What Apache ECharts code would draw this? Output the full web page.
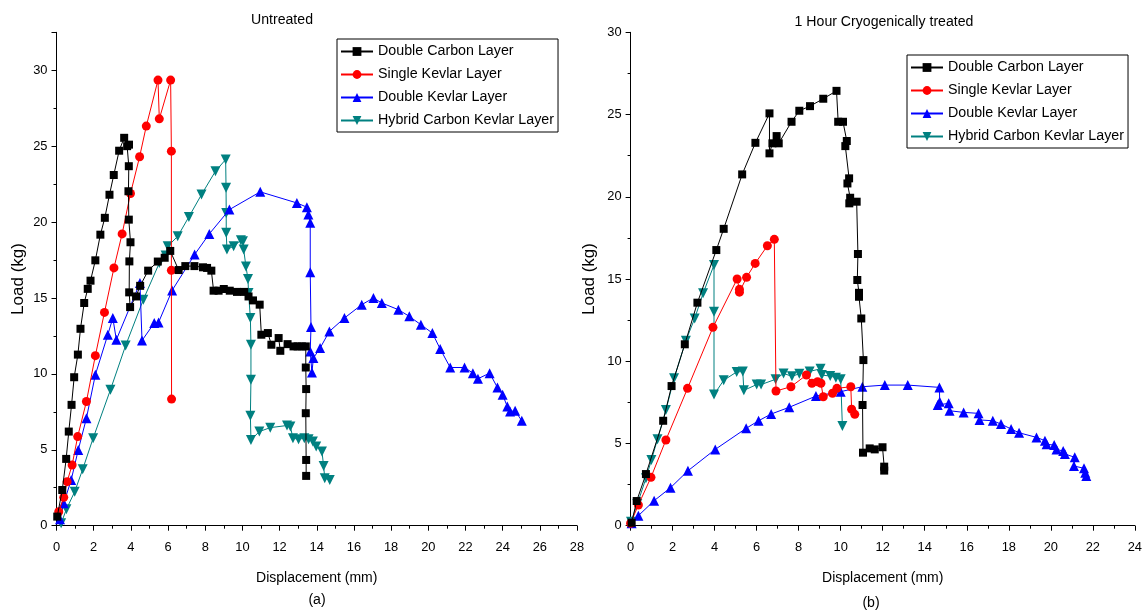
<!DOCTYPE html>
<html>
<head>
<meta charset="utf-8">
<script src="https://cdn.jsdelivr.net/npm/echarts@6/dist/echarts.min.js"></script>
<style>
html,body{margin:0;padding:0;background:#fff;}
#chart{width:1145px;height:612px;}
</style>
</head>
<body>
<div id="chart"></div>
<script>
// ---------- DATA ----------
const seriesNames = ['Double Carbon Layer', 'Single Kevlar Layer', 'Double Kevlar Layer', 'Hybrid Carbon Kevlar Layer'];
const panelTitles = ['Untreated', '1 Hour Cryogenically treated'];
const panelTags = ['(a)', '(b)'];
const xAxisName = 'Displacement (mm)';
const yAxisName = 'Load (kg)';

// (a) Untreated  [displacement mm, load kg]
const untreatedDoubleCarbon = [[0.04,0.6],[0.31,2.35],[0.52,4.4],[0.66,6.2],[0.81,7.96],[0.95,9.78],[1.15,11.27],[1.29,12.97],[1.49,14.67],[1.68,15.6],[1.83,16.14],[2.09,17.48],[2.36,19.17],[2.6,20.28],[2.85,21.8],[3.08,23.1],[3.37,24.7],[3.64,25.55],[3.8,25.0],[3.9,25.1],[3.89,23.68],[3.87,22.03],[3.89,20.16],[3.98,18.67],[3.92,17.41],[3.91,15.37],[3.96,14.4],[4.28,15.1],[4.5,15.8],[4.93,16.8],[5.45,17.4],[5.82,17.65],[6.12,18.1],[6.57,16.84],[6.93,17.1],[7.42,17.1],[7.88,17.02],[8.1,16.98],[8.33,16.8],[8.45,15.48],[8.72,15.48],[9.0,15.59],[9.32,15.48],[9.71,15.4],[10.1,15.4],[10.33,15.1],[10.57,14.84],[10.93,14.56],[11.02,12.58],[11.37,12.69],[11.56,11.92],[11.95,12.36],[12.04,11.52],[12.43,11.96],[12.75,11.81],[12.97,11.81],[13.2,11.81],[13.41,11.81],[13.41,10.42],[13.43,9.0],[13.41,7.41],[13.43,4.33],[13.43,3.28]];
const untreatedSingleKevlar = [[0.12,0.92],[0.39,1.87],[0.57,2.9],[0.84,4.0],[1.14,5.87],[1.61,8.18],[2.09,11.2],[2.58,14.05],[3.09,16.98],[3.53,19.22],[3.98,21.88],[4.47,24.3],[4.83,26.32],[5.46,29.35],[5.53,26.8],[6.14,29.35],[6.18,24.67],[6.18,16.82],[6.19,8.34]];
const untreatedDoubleKevlar = [[0.19,0.42],[0.39,1.48],[0.79,3.01],[1.17,4.99],[1.61,7.08],[2.09,9.94],[2.76,12.58],[3.03,13.68],[3.22,12.25],[4.49,15.99],[4.6,12.2],[5.26,13.35],[5.49,13.39],[6.22,15.5],[7.43,17.86],[8.22,19.22],[9.3,20.82],[10.96,21.99],[12.93,21.26],[13.47,20.98],[13.55,20.5],[13.65,19.95],[13.65,16.69],[13.69,13.09],[13.65,11.48],[13.74,10.09],[13.82,11.04],[14.18,11.7],[14.68,12.8],[15.49,13.68],[16.42,14.56],[17.05,15.0],[17.5,14.67],[18.39,14.23],[18.98,13.79],[19.6,13.24],[20.22,12.69],[20.64,11.64],[21.18,10.42],[21.95,10.42],[22.4,10.05],[22.67,9.68],[23.3,10.05],[23.72,9.1],[24.0,8.62],[24.25,7.85],[24.4,7.52],[24.67,7.57],[25.03,6.91]];
const untreatedHybrid = [[0.25,0.16],[0.53,1.08],[0.98,2.24],[1.41,3.72],[1.97,5.76],[2.9,8.95],[3.72,11.87],[4.67,14.89],[5.53,17.3],[5.87,17.79],[5.98,18.4],[6.52,19.06],[7.12,20.34],[7.8,21.81],[8.55,23.35],[9.1,24.12],[9.12,22.26],[9.13,20.6],[9.13,19.29],[9.17,18.19],[9.53,18.41],[9.92,18.8],[10.03,18.73],[10.07,18.19],[10.19,17.08],[10.3,16.25],[10.33,15.33],[10.43,13.68],[10.46,11.92],[10.46,9.61],[10.43,7.24],[10.46,5.65],[10.91,6.2],[11.5,6.46],[12.4,6.6],[12.58,6.53],[12.72,5.76],[13.02,5.7],[13.33,5.76],[13.56,5.7],[13.79,5.54],[13.97,5.21],[14.28,4.88],[14.37,3.94],[14.43,3.13],[14.7,3.01]];

// (b) 1 hour cryogenically treated
const cryoDoubleCarbon = [[0.05,0.18],[0.29,1.5],[0.73,3.14],[1.55,6.38],[1.95,8.49],[2.58,11.03],[3.18,13.56],[4.08,16.76],[4.43,18.05],[5.31,21.36],[5.94,23.28],[6.61,25.07],[6.61,22.64],[6.75,23.25],[6.95,23.69],[7.05,23.25],[7.66,24.56],[8.03,25.23],[8.54,25.51],[9.17,25.96],[9.8,26.44],[9.88,24.56],[10.11,24.56],[10.29,23.39],[10.22,23.08],[10.4,21.12],[10.32,20.81],[10.45,19.94],[10.41,19.6],[10.76,19.7],[10.82,16.52],[10.79,14.94],[10.87,14.16],[10.87,13.92],[10.98,12.6],[11.08,10.07],[11.04,7.34],[11.06,4.44],[11.38,4.7],[11.62,4.64],[11.99,4.77],[12.07,3.59],[12.07,3.35]];
const cryoSingleKevlar = [[0.0,0.15],[0.37,1.26],[0.97,2.94],[1.68,5.21],[2.71,8.35],[3.92,12.06],[5.07,15.0],[5.18,14.37],[5.18,14.2],[5.52,15.1],[5.93,15.95],[6.51,17.02],[6.84,17.41],[6.92,8.19],[7.63,8.45],[8.37,9.16],[8.63,8.66],[8.9,8.75],[9.06,8.66],[9.17,7.84],[9.61,8.05],[9.82,8.35],[10.48,8.45],[10.52,7.08],[10.67,6.77]];
const cryoDoubleKevlar = [[0.05,0.15],[0.37,0.61],[1.12,1.52],[1.9,2.31],[2.73,3.34],[4.03,4.64],[5.5,5.92],[6.09,6.38],[6.69,6.79],[7.55,7.2],[8.82,7.88],[10.0,8.15],[11.03,8.45],[12.1,8.55],[13.19,8.55],[14.7,8.41],[14.71,7.54],[14.62,7.34],[15.14,7.44],[15.18,6.99],[15.85,6.89],[16.56,6.83],[16.61,6.43],[17.24,6.38],[17.63,6.18],[18.11,5.88],[18.49,5.65],[19.32,5.37],[19.72,5.17],[19.8,4.95],[20.16,4.9],[20.27,4.64],[20.59,4.54],[20.67,4.36],[21.14,4.16],[21.1,3.63],[21.58,3.49],[21.64,3.22],[21.69,3.02]];
const cryoHybrid = [[0.02,0.24],[0.32,1.32],[0.73,2.88],[0.99,3.99],[1.28,5.25],[1.68,7.03],[2.07,8.96],[2.63,11.25],[3.05,12.6],[3.45,14.13],[3.97,15.85],[3.97,13.01],[3.97,7.97],[4.43,8.84],[5.05,9.35],[5.34,9.37],[5.39,8.23],[6.0,8.58],[6.21,8.58],[6.9,8.9],[7.28,9.26],[7.68,9.08],[8.03,9.24],[8.52,9.38],[9.04,9.54],[9.1,9.16],[9.5,9.1],[9.77,9.0],[10.0,8.9],[10.08,6.06]];

// axis ranges / ticks
const xMaxA = 28, xMaxB = 24, xStep = 2;
const yMaxA = 32.5, yMaxB = 30, yStep = 5;

// ---------- STYLE ----------
function hasFont(name){
  const c = document.createElement('canvas').getContext('2d');
  const s = 'Hybrid Carbon Kevlar 0123456789';
  c.font = '40px monospace'; const w1 = c.measureText(s).width;
  c.font = "40px '" + name + "', monospace"; const w2 = c.measureText(s).width;
  return Math.abs(w1 - w2) > 1;
}
const narrowOK = hasFont('Liberation Sans Narrow');
const NF = narrowOK ? "'Liberation Sans Narrow', 'Liberation Sans', Arial, sans-serif" : "'Liberation Sans', Arial, sans-serif";
const RF = "'Liberation Sans', Arial, sans-serif";
const k = narrowOK ? 1 : 0.83;

const colors = ['#000000', '#ff0000', '#0000ff', '#008080'];
const symbols = ['rect', 'circle', 'triangle', 'triangle'];
const rotates = [0, 0, 0, 180];
const sizes = [8, 9, 10, 10];

const chart = echarts.init(document.getElementById('chart'), null, {renderer: 'canvas'});

function mkX(idx, max){
  return {
    gridIndex: idx, type: 'value', min: 0, max: max, interval: xStep,
    name: xAxisName, nameLocation: 'middle', nameGap: 45,
    nameTextStyle: {fontFamily: RF, fontSize: 14, color: '#000'},
    axisLine: {show: true, onZero: false, lineStyle: {color: '#000', width: 1}},
    axisTick: {show: true, length: 5, lineStyle: {color: '#000'}},
    minorTick: {show: true, splitNumber: 2, length: 3, lineStyle: {color: '#000'}},
    axisLabel: {fontFamily: NF, fontSize: 15.5 * k, color: '#000', margin: 15},
    splitLine: {show: false}
  };
}
function mkY(idx, max, gap){
  return {
    gridIndex: idx, type: 'value', min: 0, max: max, interval: yStep,
    name: yAxisName, nameLocation: 'middle', nameGap: gap,
    nameTextStyle: {fontFamily: RF, fontSize: 17, color: '#000'},
    axisLine: {show: true, onZero: false, lineStyle: {color: '#000', width: 1}},
    axisTick: {show: true, length: 5, lineStyle: {color: '#000'}},
    minorTick: {show: true, splitNumber: 2, length: 3, lineStyle: {color: '#000'}},
    axisLabel: {fontFamily: NF, fontSize: 15.5 * k, color: '#000', margin: 9,
      formatter: v => (v % yStep === 0 ? String(v) : '')},
    splitLine: {show: false}
  };
}

const panelData = [
  [untreatedDoubleCarbon, untreatedSingleKevlar, untreatedDoubleKevlar, untreatedHybrid],
  [cryoDoubleCarbon, cryoSingleKevlar, cryoDoubleKevlar, cryoHybrid]
];
const series = [];
panelData.forEach((arr, p) => {
  arr.forEach((d, i) => {
    series.push({
      name: seriesNames[i], type: 'line', xAxisIndex: p, yAxisIndex: p,
      data: d, symbol: symbols[i], symbolRotate: rotates[i], symbolSize: sizes[i],
      showAllSymbol: true, clip: false,
      lineStyle: {color: colors[i], width: 1},
      itemStyle: {color: colors[i], borderWidth: 0},
      emphasis: {disabled: true}, animation: false, z: 2 + (3 - i)
    });
  });
});

function mkLegend(left, top){
  return {
    data: seriesNames, orient: 'vertical', left: left, top: top,
    itemWidth: 32, itemHeight: 11, itemGap: 6,
    padding: [4, 4, 3, 3],
    borderColor: '#000', borderWidth: 1, backgroundColor: '#fff',
    textStyle: {fontFamily: NF, fontSize: 17.2 * k, color: '#000', lineHeight: 17},
    selectedMode: false
  };
}

const option = {
  animation: false,
  backgroundColor: '#fff',
  grid: [
    {left: 56.5, width: 520.5, top: 32.3, bottom: 86.3, containLabel: false},
    {left: 630.6, width: 506.4, top: 32.3, bottom: 86.3, containLabel: false}
  ],
  xAxis: [mkX(0, xMaxA), mkX(1, xMaxB)],
  yAxis: [mkY(0, yMaxA, 30), mkY(1, yMaxB, 33)],
  legend: [mkLegend(337, 39), mkLegend(907, 55)],
  series: series,
  graphic: [
    {type: 'text', x: 282, y: 20, style: {text: panelTitles[0], fontFamily: NF, fontSize: 17 * k, fill: '#000', align: 'center', verticalAlign: 'middle'}},
    {type: 'text', x: 884, y: 22, style: {text: panelTitles[1], fontFamily: NF, fontSize: 17 * k, fill: '#000', align: 'center', verticalAlign: 'middle'}},
    {type: 'text', x: 317, y: 600, style: {text: panelTags[0], fontFamily: NF, fontSize: 17 * k, fill: '#000', align: 'center', verticalAlign: 'middle'}},
    {type: 'text', x: 871, y: 603, style: {text: panelTags[1], fontFamily: NF, fontSize: 17 * k, fill: '#000', align: 'center', verticalAlign: 'middle'}}
  ]
};
chart.setOption(option);
</script>
</body>
</html>
